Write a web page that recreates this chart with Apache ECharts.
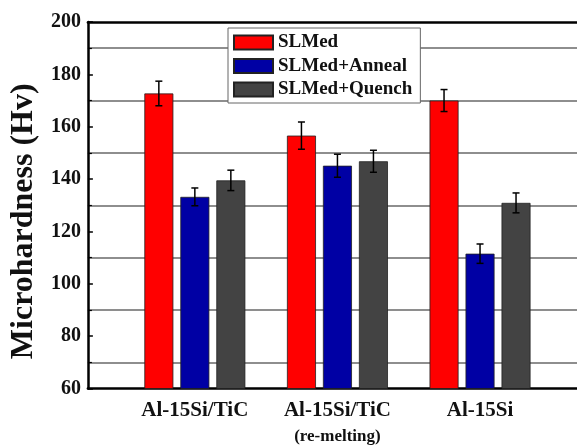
<!DOCTYPE html>
<html>
<head>
<meta charset="utf-8">
<script src="https://cdn.jsdelivr.net/npm/echarts@6/dist/echarts.min.js"></script>
<style>
  html, body { margin: 0; padding: 0; background: #fff; }
  #main { width: 577px; height: 445px; }
</style>
</head>
<body>
<div id="main"></div>
<script>
var myChart = echarts.init(document.getElementById('main'));

// groups sit at x = 1, 2, 3 on a value axis (right part of the frame is cut off)
var groupPos = [1, 2, 3];
var groupNames = ['Al-15Si/TiC', 'Al-15Si/TiC\n(re-melting)', 'Al-15Si'];

var seriesNames = ['SLMed', 'SLMed+Anneal', 'SLMed+Quench'];
var slmed = [172.7, 156.6, 170.0];
var slmedErr = [4.7, 5.2, 4.2];
var anneal = [133.2, 145.1, 111.5];
var annealErr = [3.4, 4.4, 3.7];
var quench = [139.5, 146.8, 130.9];
var quenchErr = [3.9, 4.2, 3.8];

var yTicks = [60, 80, 100, 120, 140, 160, 180, 200];

var colors = ['#ff0000', '#0000a4', '#434343'];
var font = 'Liberation Serif';
var barW = 29;
var gap = 7;

var toBars = function (vals) {
    return vals.map(function (v, i) { return [groupPos[i], v]; });
};
var toErr = function (vals, errs) {
    return vals.map(function (v, i) { return [groupPos[i], v - errs[i], v + errs[i]]; });
};

var errSeries = function (vals, errs, k) {
    var shift = (k - 1) * (barW + gap);
    return {
        type: 'custom',
        data: toErr(vals, errs),
        encode: {x: 0, y: [1, 2]},
        z: 5,
        silent: true,
        renderItem: function (params, api) {
            var lo = api.coord([api.value(0), api.value(1)]);
            var hi = api.coord([api.value(0), api.value(2)]);
            var x = lo[0] + shift;
            var c = 3.5;
            var st = {stroke: '#000', lineWidth: 1.5};
            return {
                type: 'group',
                children: [
                    {type: 'line', shape: {x1: x, y1: lo[1], x2: x, y2: hi[1]}, style: st},
                    {type: 'line', shape: {x1: x - c, y1: lo[1], x2: x + c, y2: lo[1]}, style: st},
                    {type: 'line', shape: {x1: x - c, y1: hi[1], x2: x + c, y2: hi[1]}, style: st}
                ]
            };
        }
    };
};

var barSeries = function (name, vals, k) {
    return {
        name: name,
        type: 'bar',
        data: toBars(vals),
        barWidth: barW,
        barGap: (gap / barW * 100).toFixed(1) + '%',
        itemStyle: {color: colors[k], borderColor: '#222', borderWidth: 0.8}
    };
};

var xMin = 0.25, xMax = 3.68;

option = {
    animation: false,
    backgroundColor: '#fff',
    grid: {left: 86, top: 22, right: 0, height: 371},
    legend: {
        orient: 'vertical',
        left: 228,
        top: 28,
        padding: [5, 8, 4, 5],
        itemWidth: 39,
        itemHeight: 14,
        itemGap: 4.5,
        backgroundColor: '#fff',
        borderColor: '#666',
        borderWidth: 1,
        borderRadius: 0,
        z: 10,
        data: seriesNames,
        textStyle: {fontFamily: font, fontWeight: 'bold', fontSize: 19, color: '#111'},
        icon: 'rect'
    },
    xAxis: [{
        type: 'value',
        min: xMin,
        max: xMax,
        position: 'bottom',
        splitLine: {show: false},
        axisTick: {show: false},
        axisLine: {show: true, onZero: false, lineStyle: {color: '#000', width: 2.5}},
        axisLabel: {
            customValues: groupPos,
            margin: 9,
            formatter: function (v) {
                var i = groupPos.indexOf(v);
                if (i < 0) return '';
                var parts = groupNames[i].split('\n');
                return parts.length > 1 ? '{a|' + parts[0] + '}\n{b|' + parts[1] + '}' : '{a|' + parts[0] + '}';
            },
            rich: {
                a: {fontFamily: font, fontWeight: 'bold', fontSize: 21, color: '#111', lineHeight: 26},
                b: {fontFamily: font, fontWeight: 'bold', fontSize: 17, color: '#111', lineHeight: 26}
            }
        }
    }, {
        type: 'value',
        min: xMin,
        max: xMax,
        position: 'top',
        splitLine: {show: false},
        axisTick: {show: false},
        axisLabel: {show: false},
        axisLine: {show: true, onZero: false, lineStyle: {color: '#000', width: 2.5}}
    }],
    yAxis: {
        type: 'value',
        min: yTicks[0],
        max: yTicks[yTicks.length - 1],
        interval: 20,
        name: 'Microhardness (Hv)',
        nameLocation: 'middle',
        nameGap: 42,
        nameTextStyle: {fontFamily: font, fontWeight: 'bold', fontSize: 32, color: '#111', padding: [0, 32, 0, 0]},
        axisLine: {show: true, lineStyle: {color: '#000', width: 2.5}},
        axisTick: {show: true, inside: true, length: 5, lineStyle: {color: '#000', width: 1.5}},
        minorTick: {show: true, splitNumber: 2, length: 4, lineStyle: {color: '#000', width: 1.2}},
        splitLine: {show: false},
        minorSplitLine: {show: true, lineStyle: {color: '#6a6a6a', width: 1.5}},
        axisLabel: {fontFamily: font, fontWeight: 'bold', fontSize: 20, color: '#111', margin: 7}
    },
    series: [
        barSeries(seriesNames[0], slmed, 0),
        barSeries(seriesNames[1], anneal, 1),
        barSeries(seriesNames[2], quench, 2),
        errSeries(slmed, slmedErr, 0),
        errSeries(anneal, annealErr, 1),
        errSeries(quench, quenchErr, 2)
    ]
};

myChart.setOption(option);
</script>
</body>
</html>
